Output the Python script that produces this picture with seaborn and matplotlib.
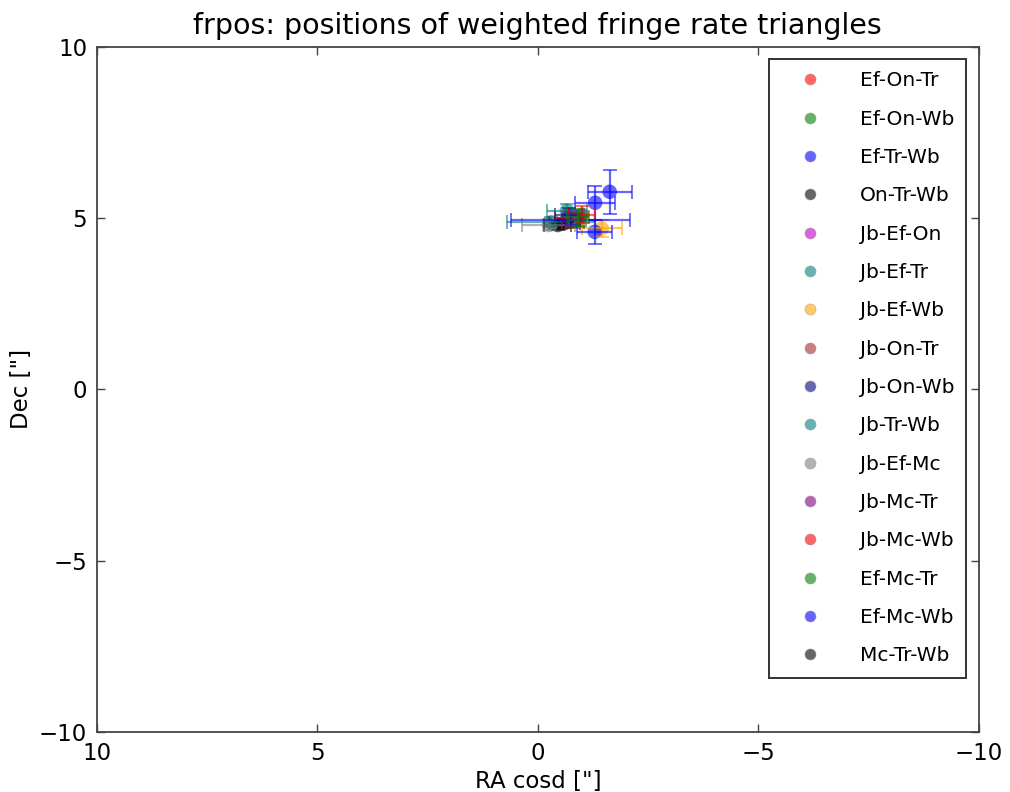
import pandas as pd
import matplotlib
matplotlib.use("Agg")
import matplotlib.pyplot as plt
import seaborn as sns
from matplotlib.lines import Line2D

# --- datos ---
triangles = ["Ef-On-Tr", "Ef-On-Wb", "Ef-Tr-Wb", "On-Tr-Wb", "Jb-Ef-On", "Jb-Ef-Tr",
             "Jb-Ef-Wb", "Jb-On-Tr", "Jb-On-Wb", "Jb-Tr-Wb", "Jb-Ef-Mc", "Jb-Mc-Tr",
             "Jb-Mc-Wb", "Ef-Mc-Tr", "Ef-Mc-Wb", "Mc-Tr-Wb"]
colores = ["r", "g", "b", "k", "m", "teal", "orange", "brown", "navy", "teal",
           "gray", "purple", "r", "g", "b", "k"]

# una entrada por punto (orden de dibujo)
tri_pt = ["Mc-Tr-Wb", "On-Tr-Wb", "Ef-On-Tr", "Ef-Tr-Wb", "Ef-Tr-Wb", "Jb-Ef-On",
          "Jb-Ef-Tr", "Jb-Ef-Wb", "Jb-On-Tr", "Jb-On-Wb", "Jb-Tr-Wb", "Jb-Ef-Mc",
          "Jb-Mc-Tr", "Jb-Mc-Wb", "Ef-Mc-Wb", "Ef-Mc-Wb", "Ef-On-Wb", "Ef-Mc-Tr"]
ra = [-0.45, -0.60, -0.70, -1.63, -1.30, -0.85, -0.30, -1.45, -0.80, -0.70, -0.66,
      -0.25, -0.75, -1.00, -1.29, -0.75, -0.90, -0.92]
dec = [4.80, 4.85, 5.00, 5.77, 5.45, 5.05, 4.88, 4.70, 4.90, 5.10, 5.22, 4.80, 4.95,
       5.10, 4.60, 4.95, 4.95, 5.02]
ra_err = [0.30, 0.35, 0.30, 0.50, 0.45, 0.20, 1.00, 0.45, 0.25, 0.30, 0.45, 0.60,
          0.20, 0.30, 0.40, 1.35, 0.20, 0.25]
dec_err = [0.15, 0.15, 0.20, 0.65, 0.50, 0.20, 0.15, 0.25, 0.20, 0.20, 0.20, 0.15,
           0.20, 0.25, 0.35, 0.15, 0.20, 0.25]

df = pd.DataFrame({"tri": tri_pt, "ra": ra, "dec": dec, "ra_err": ra_err, "dec_err": dec_err})
paleta = dict(zip(triangles, colores))

# -------------------------------------------------
sns.set_style("ticks", {"xtick.direction": "in", "ytick.direction": "in"})
plt.rcParams["font.family"] = ["DejaVu Sans"]
plt.rcParams["text.color"] = "black"
plt.rcParams["axes.labelcolor"] = "black"
plt.rcParams["xtick.color"] = "#444444"
plt.rcParams["ytick.color"] = "#444444"

fig = plt.figure(figsize=(10.1, 7.92), dpi=100)
ax = fig.add_axes([0.096, 0.0758, 0.873, 0.865])

for _, fila in df.iterrows():
    ax.errorbar(fila["ra"], fila["dec"], xerr=fila["ra_err"], yerr=fila["dec_err"],
                fmt="none", ecolor=paleta[fila["tri"]], alpha=0.6, elinewidth=1.6,
                capsize=5, capthick=1.3)

sns.scatterplot(data=df, x="ra", y="dec", hue="tri", hue_order=triangles,
                palette=paleta, alpha=0.6, s=110, edgecolor="none", legend=False, ax=ax)

ax.set_xlim(10, -10)
ax.set_ylim(-10, 10)
ax.set_xticks([10, 5, 0, -5, -10])
ax.set_yticks([-10, -5, 0, 5, 10])
ax.tick_params(direction="in", length=6, width=1, top=True, right=True,
               labelsize=16.5, labelcolor="black", pad=7)
for s in ax.spines.values():
    s.set_color("#444444")
    s.set_linewidth(1.3)

ax.set_title("frpos: positions of weighted fringe rate triangles", fontsize=20.5, pad=9)
ax.set_xlabel('RA cosd ["]', fontsize=16.5, labelpad=4)
ax.set_ylabel('Dec ["]', fontsize=16.5, labelpad=4)

# leyenda
handles = [Line2D([], [], marker="o", linestyle="none", color=c, alpha=0.6,
                  markersize=8, markeredgecolor="#999999", markeredgewidth=0.5)
           for c in colores]
leg = ax.legend(handles, triangles, loc="upper right", fontsize=14.5, labelspacing=0.96,
                handlelength=2.9, handletextpad=1.0, borderpad=0.6, frameon=True,
                fancybox=False, borderaxespad=0.62)
leg.get_frame().set_edgecolor("black")
leg.get_frame().set_linewidth(1.4)

fig.savefig("out.png", dpi=100)
